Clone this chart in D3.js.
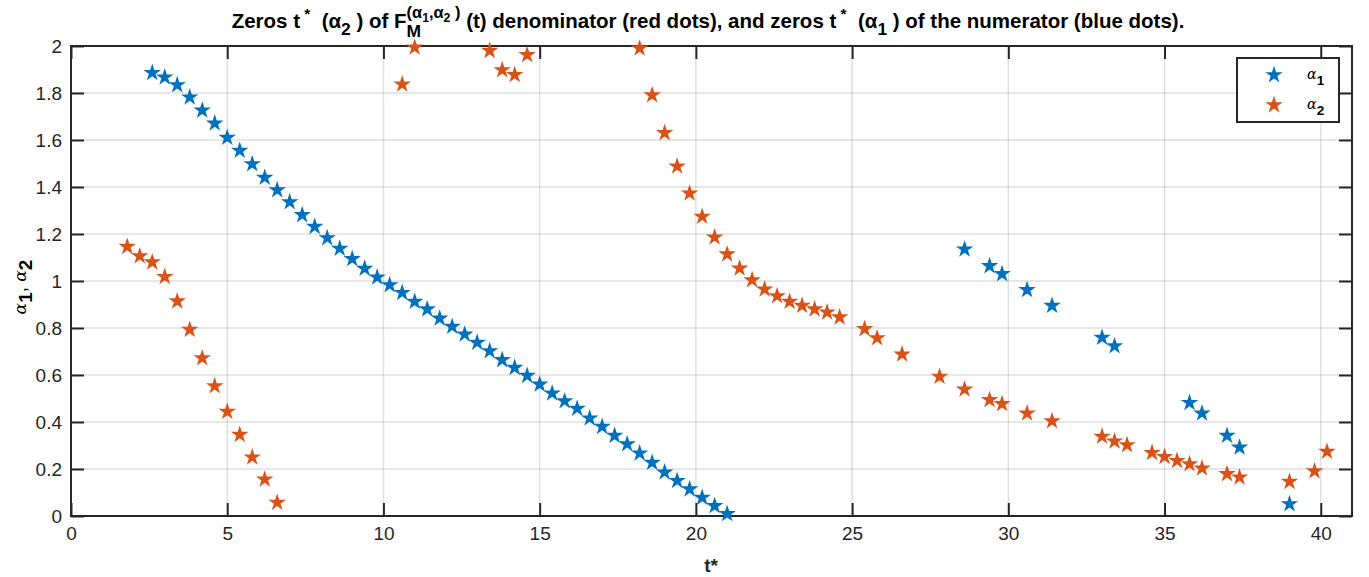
<!DOCTYPE html>
<html>
<head>
<meta charset="utf-8">
<script src="https://cdn.jsdelivr.net/npm/d3@7"></script>
<style>
    body { margin: 0; background: #fff; }
    svg { display: block; font-family: "Liberation Sans", Arial, sans-serif; }
    text { white-space: pre; }
</style>
</head>
<body>
<svg id="chart"></svg>
<script>
// t* positions and zeros for alpha_1 (numerator, blue)
const tAlpha1 = [2.6, 3.0, 3.4, 3.8, 4.2, 4.6, 5.0, 5.4, 5.8, 6.2, 6.6, 7.0, 7.4, 7.8, 8.2, 8.6, 9.0, 9.4, 9.8,
    10.2, 10.6, 11.0, 11.4, 11.8, 12.2, 12.6, 13.0, 13.4, 13.8, 14.2, 14.6, 15.0, 15.4, 15.8, 16.2, 16.6, 17.0,
    17.4, 17.8, 18.2, 18.6, 19.0, 19.4, 19.8, 20.2, 20.6, 21.0,
    28.6, 29.4, 29.8, 30.6, 31.4, 33.0, 33.4, 35.8, 36.2, 37.0, 37.4, 39.0];
const alpha1 = [1.886, 1.867, 1.834, 1.782, 1.726, 1.671, 1.610, 1.555, 1.498, 1.440, 1.387, 1.336, 1.281, 1.231,
    1.183, 1.138, 1.094, 1.053, 1.016, 0.983, 0.950, 0.912, 0.880, 0.841, 0.806, 0.773, 0.738, 0.702, 0.664,
    0.631, 0.597, 0.560, 0.522, 0.489, 0.457, 0.416, 0.380, 0.342, 0.306, 0.267, 0.227, 0.186, 0.150, 0.114,
    0.078, 0.043, 0.009,
    1.135, 1.064, 1.030, 0.962, 0.895, 0.759, 0.723, 0.482, 0.437, 0.342, 0.292, 0.051];

// t* positions and zeros for alpha_2 (denominator, red)
const tAlpha2 = [1.8, 2.2, 2.6, 3.0, 3.4, 3.8, 4.2, 4.6, 5.0, 5.4, 5.8, 6.2, 6.6,
    10.6, 11.0, 13.4, 13.8, 14.2, 14.6, 18.2, 18.6, 19.0, 19.4, 19.8, 20.2, 20.6, 21.0, 21.4, 21.8, 22.2, 22.6,
    23.0, 23.4, 23.8, 24.2, 24.6, 25.4, 25.8, 26.6, 27.8, 28.6, 29.4, 29.8, 30.6, 31.4, 33.0, 33.4, 33.8, 34.6,
    35.0, 35.4, 35.8, 36.2, 37.0, 37.4, 39.0, 39.8, 40.2];
const alpha2 = [1.146, 1.106, 1.080, 1.018, 0.914, 0.793, 0.672, 0.553, 0.444, 0.346, 0.250, 0.156, 0.057,
    1.837, 1.994, 1.980, 1.898, 1.877, 1.962, 1.990, 1.791, 1.630, 1.488, 1.373, 1.274, 1.186, 1.114, 1.054,
    1.004, 0.965, 0.936, 0.912, 0.895, 0.880, 0.867, 0.846, 0.796, 0.757, 0.688, 0.593, 0.539, 0.494, 0.477,
    0.437, 0.404, 0.338, 0.318, 0.302, 0.269, 0.252, 0.235, 0.221, 0.203, 0.179, 0.165, 0.146, 0.191, 0.274];

const xTicks = [0, 5, 10, 15, 20, 25, 30, 35, 40];
const yTicks = [0, 0.2, 0.4, 0.6, 0.8, 1, 1.2, 1.4, 1.6, 1.8, 2];
const yTickLabels = ['0', '0.2', '0.4', '0.6', '0.8', '1', '1.2', '1.4', '1.6', '1.8', '2'];
const seriesNames = ['1', '2'];
const seriesColors = ['#0072BD', '#D95319'];

const W = 1369, H = 577;
const margin = { top: 46, right: 17, bottom: 61, left: 71 };
const width = W - margin.left - margin.right;
const height = H - margin.top - margin.bottom;
const ink = '#262626';

const svg = d3.select('#chart').attr('width', W).attr('height', H);
const chart = svg.append('g').attr('transform', `translate(${margin.left},${margin.top})`);

const x = d3.scaleLinear().domain([0, 41]).range([0, width]);
const y = d3.scaleLinear().domain([0, 2]).range([height, 0]);

// grid
chart.append('g').selectAll('line').data(xTicks).join('line')
    .attr('x1', d => x(d)).attr('x2', d => x(d)).attr('y1', 0).attr('y2', height)
    .attr('stroke', ink).attr('stroke-opacity', 0.15).attr('stroke-width', 1.4);
chart.append('g').selectAll('line').data(yTicks).join('line')
    .attr('y1', d => y(d)).attr('y2', d => y(d)).attr('x1', 0).attr('x2', width)
    .attr('stroke', ink).attr('stroke-opacity', 0.15).attr('stroke-width', 1.4);

// axes (matlab style: inward ticks, box on)
const tickLen = 13;
const styleAxis = g => {
    g.select('.domain').remove();
    g.selectAll('.tick line').attr('stroke', ink).attr('stroke-width', 2);
    g.selectAll('.tick text').attr('fill', ink).attr('font-size', 19);
};
chart.append('g').attr('transform', `translate(0,${height})`)
    .call(d3.axisBottom(x).tickValues(xTicks).tickSize(-tickLen).tickPadding(11).tickFormat(d3.format('d')))
    .call(styleAxis);
chart.append('g')
    .call(d3.axisTop(x).tickValues(xTicks).tickSize(-tickLen).tickFormat(''))
    .call(styleAxis);
chart.append('g')
    .call(d3.axisLeft(y).tickValues(yTicks).tickSize(-tickLen).tickPadding(9).tickFormat((d, i) => yTickLabels[i]))
    .call(styleAxis);
chart.append('g').attr('transform', `translate(${width},0)`)
    .call(d3.axisRight(y).tickValues(yTicks).tickSize(-tickLen).tickFormat(''))
    .call(styleAxis);
chart.append('rect').attr('width', width).attr('height', height)
    .attr('fill', 'none').attr('stroke', ink).attr('stroke-width', 2);

// markers
const star = d3.symbol().type(d3.symbolStar).size(95);
const series = [
    tAlpha1.map((t, i) => ({ t, v: alpha1[i] })),
    tAlpha2.map((t, i) => ({ t, v: alpha2[i] }))
];
series.forEach((pts, k) => {
    chart.append('g').selectAll('path').data(pts).join('path')
        .attr('d', star)
        .attr('transform', d => `translate(${x(d.t)},${y(d.v)})`)
        .attr('fill', seriesColors[k]);
});

// rich text helper: segments laid out left to right, 'back' restarts at previous segment x
function richText(g, segs, base) {
    let cx = 0, prevX = 0;
    segs.forEach(s => {
        const sx = s.back ? prevX : cx;
        const el = g.append('text')
            .attr('x', sx).attr('y', s.dy || 0)
            .attr('font-size', base * (s.s || 1))
            .attr('font-weight', s.w || 'bold')
            .attr('font-style', s.it ? 'italic' : 'normal')
            .attr('font-family', s.ff || null)
            .attr('fill', '#000')
            .text(s.t);
        const len = el.node().getComputedTextLength();
        prevX = sx;
        cx = Math.max(cx, sx + len);
    });
    return cx;
}

// title
const title = svg.append('g');
const titleW = richText(title, [
    { t: 'Zeros t' }, { t: ' *', s: 0.75, dy: -9 },
    { t: '  (α' }, { t: '2', s: 0.85, dy: 7 },
    { t: ' ) of F' },
    { t: 'M', s: 0.85, dy: 9 },
    { t: '(α', s: 0.8, dy: -10, back: true }, { t: '1', s: 0.6, dy: -6 },
    { t: ',α', s: 0.8, dy: -10 }, { t: '2', s: 0.6, dy: -6 }, { t: ' )', s: 0.8, dy: -10 },
    { t: ' (t) denominator (red dots), and zeros t' }, { t: ' *', s: 0.75, dy: -9 },
    { t: '  (α' }, { t: '1', s: 0.85, dy: 7 },
    { t: ' ) of the numerator (blue dots).' }
], 20.5);
title.attr('transform', `translate(${708 - titleW / 2},28)`);

// x label
svg.append('text').attr('x', 711).attr('y', 572).attr('text-anchor', 'middle')
    .attr('font-size', 19).attr('font-weight', 'bold').attr('fill', ink)
    .text('t*');

// y label
const ylab = svg.append('g');
const serif = '"DejaVu Serif", "Liberation Serif", serif';
const ylabW = richText(ylab, [
    { t: 'α', it: true, w: 'normal', ff: serif, s: 0.9 }, { t: '1', dy: 6 },
    { t: ', ', w: 'normal' },
    { t: 'α', it: true, w: 'normal', ff: serif, s: 0.9 }, { t: '2', dy: 6 }
], 19);
ylab.attr('transform', `translate(26,${margin.top + height / 2 + ylabW / 2 + 6}) rotate(-90)`);

// legend
const legend = svg.append('g').attr('transform', 'translate(1237,58)');
legend.append('rect').attr('width', 102).attr('height', 64)
    .attr('fill', '#fff').attr('stroke', ink).attr('stroke-width', 2);
seriesNames.forEach((n, i) => {
    const row = legend.append('g').attr('transform', `translate(37,${17 + i * 30})`);
    row.append('path').attr('d', star).attr('fill', seriesColors[i]);
    const lab = row.append('g').attr('transform', 'translate(33,4)');
    richText(lab, [
        { t: 'α', it: true, w: 'normal', ff: serif, s: 0.95 }, { t: n, dy: 6, s: 0.9 }
    ], 15);
});
</script>
</body>
</html>
